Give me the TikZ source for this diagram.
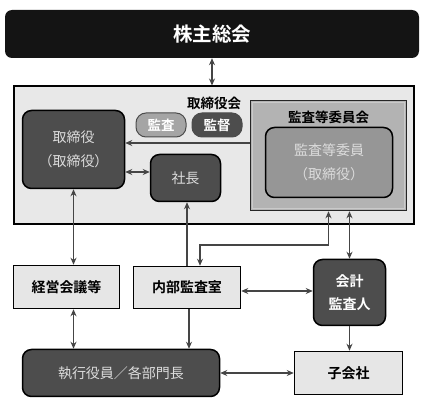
\documentclass[tikz,border=0pt]{standalone}
\usepackage{fontspec}
\setmainfont{Noto Sans CJK JP}[BoldFont={Noto Sans CJK JP Bold}]
\usetikzlibrary{arrows.meta,calc}

\definecolor{boxblack}{HTML}{141414}
\definecolor{boxdark}{HTML}{4D4D4D}
\definecolor{boxlight}{HTML}{E6E6E6}
\definecolor{boardfill}{HTML}{E8E8E8}
\definecolor{acbfill}{HTML}{B3B3B3}
\definecolor{acbband}{HTML}{CACACA}
\definecolor{acmfill}{HTML}{969696}
\definecolor{pillgray}{HTML}{A5A5A5}
\definecolor{linegray}{HTML}{454545}
\definecolor{textlight}{HTML}{DCDCDC}

\tikzset{
    darkbox/.style={draw=black, line width=1.5pt, fill=boxdark, rounded corners=9pt,
        text=textlight, align=center, inner sep=0pt,
        font=\fontsize{14}{24}\selectfont},
    lightbox/.style={draw=black, line width=1.5pt, fill=boxlight, align=center,
        inner sep=0pt, font=\fontsize{14}{24}\selectfont\bfseries},
    pill/.style={draw=black!70, line width=1pt, rounded corners=10pt, text=white,
        inner sep=0pt, minimum width=50pt, minimum height=24pt,
        font=\fontsize{13.5}{16}\selectfont\bfseries},
    conn/.style={draw=linegray, line width=1.6pt},
    arr/.style={conn, -{Stealth[length=7pt,width=6pt]}},
    darr/.style={conn, {Stealth[length=7pt,width=6pt]}-{Stealth[length=7pt,width=6pt]}},
}

\begin{document}
\begin{tikzpicture}[x=1pt, y=-1pt]
    \useasboundingbox (0,0) rectangle (424,409);

    % Shareholders meeting
    \node [fill=boxblack, rounded corners=7pt, text=white, minimum width=414pt,
        minimum height=48pt, font=\fontsize{19.5}{22}\selectfont\bfseries]
        (gm) at (212,34) {株主総会};

    % Board of directors
    \node [draw=black, line width=2pt, fill=boardfill, minimum width=400pt,
        minimum height=138pt] (board) at (213.5,155.5) {};
    \node [font=\fontsize{13.5}{16}\selectfont\bfseries] (lboard) at (214,103) {取締役会};
    \node [pill, fill=pillgray] (kansa) at (161,125) {監査};
    \node [pill, fill=boxdark] (kantoku) at (217,125) {監督};

    \node [darkbox, minimum width=102pt, minimum height=78pt] (dir) at (73.5,149.5)
        {取締役\\（取締役）};
    \node [darkbox, minimum width=70pt, minimum height=47pt] (pres) at (185.5,178) {社長};

    % Audit and supervisory committee
    \node [draw=black!85, line width=1.5pt, fill=acbfill, minimum width=156pt,
        minimum height=110pt] (acb) at (328.5,155.5) {};
    \draw [acbband, line width=1.4pt] ($(acb.north west)+(3,3)$) rectangle ($(acb.south east)+(-3,-3)$);
    \node [font=\fontsize{13.5}{16}\selectfont\bfseries] (lacb) at (328.5,117) {監査等委員会};
    \node [darkbox, fill=acmfill, minimum width=127pt, minimum height=70pt] (acm)
        at (329,162.5) {監査等委員\\（取締役）};

    % Lower level
    \node [lightbox, minimum width=106pt, minimum height=43pt] (mgmt) at (66.5,287) {経営会議等};
    \node [lightbox, minimum width=107pt, minimum height=42pt] (ia) at (187,287.5) {内部監査室};
    \node [darkbox, text=white, font=\fontsize{14}{23}\selectfont\bfseries,
        minimum width=72pt, minimum height=66pt] (auditor) at (349.5,292.5) {会計\\監査人};
    \node [darkbox, minimum width=197pt, minimum height=47pt] (exec) at (121,373)
        {執行役員／各部門長};
    \node [lightbox, minimum width=108pt, minimum height=43pt] (sub) at (348.5,373) {子会社};

    % Connectors
    \draw [darr] (gm.south) -- (gm.south |- board.north);
    \draw [arr] (acb.west |- 0,143) -- (dir.east |- 0,143);
    \draw [darr] (dir.east |- 0,172) -- (pres.west |- 0,172);
    \draw [darr] (dir.south) -- (dir.south |- mgmt.north);
    \draw [arr] (ia.north) -- (ia.north |- pres.south);
    \draw [darr] (acb.south) -- ++(0,34) -| ($(ia.north)+(13,0)$);
    \draw [darr] (auditor.north |- acb.south) -- (auditor.north);
    \draw [darr] (ia.east |- 0,291) -- (auditor.west |- 0,291);
    \draw [arr] ($(ia.south)+(2,0)$) -- ($(ia.south |- exec.north)+(2,0)$);
    \draw [darr] (dir.south |- mgmt.south) -- (dir.south |- exec.north);
    \draw [arr] (auditor.south) -- (sub.north -| auditor.south);
    \draw [darr] (exec.east) -- (sub.west);

\end{tikzpicture}
\end{document}
